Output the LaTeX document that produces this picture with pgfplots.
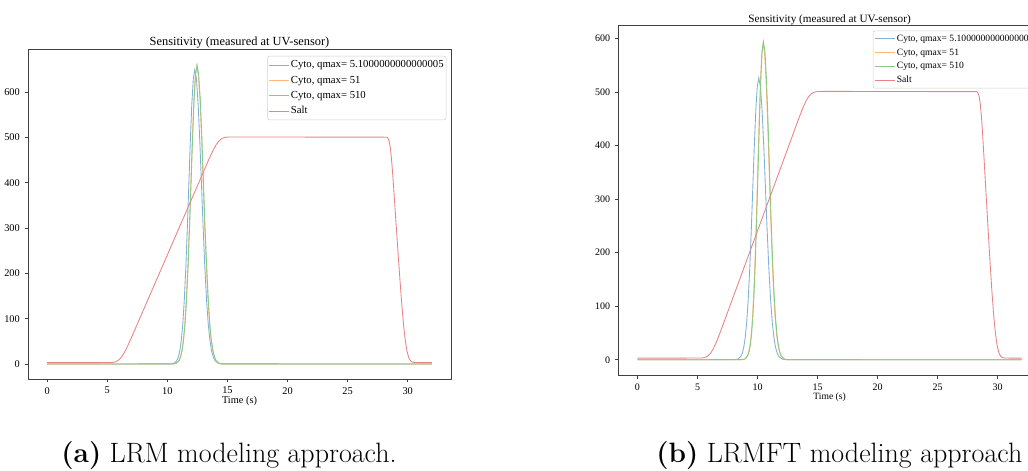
\documentclass[border=0pt]{standalone}
\usepackage{fontspec}
\usepackage{pgfplots}
\usepackage{pgfplotstable}
\pgfplotsset{compat=1.18}
\newfontfamily\tnr{Liberation Serif}
\definecolor{cblue}{RGB}{128,178,214}
\definecolor{corange}{RGB}{255,182,118}
\definecolor{cgreen}{RGB}{136,202,136}
\definecolor{cred}{RGB}{232,132,133}

% ---------- Salt (same gradient in both panels) ----------
\pgfplotstableread{
x y
0 3
5.3 3.2
5.5 3.7
5.7 5.0
5.9 7.8
6.1 12.7
6.3 20.0
6.5 29.4
6.7 40.3
6.9 52.0
7.1 63.7
7.5 88.4
8 118.9
9 179.9
10 240.9
11 301.9
12 362.9
13 423.9
13.46 452.2
13.66 463.7
13.86 474.6
14.06 484
14.26 491.3
14.46 496.2
14.66 499
14.86 500.3
15.06 500.8
15.5 501
28.25 500.5
28.325 499.2
28.40 496
28.475 489
28.55 477
28.625 459
28.70 436
28.775 409
28.85 380.5
29.0 321
29.2 243
29.35 186.5
29.5 133
29.65 86.8
29.8 50.9
29.95 26.8
30.1 13
30.25 6.5
30.4 4
30.6 3.2
32 3
}\salt

% ---------- LRM panel ----------
\pgfplotstableread{
x y
0 0
10.28 0.2
10.53 1.4
10.78 7.2
10.905 14.8
11.03 28.5
11.155 51.7
11.28 87.8
11.405 140.4
11.53 210.7
11.655 297.1
11.78 393.6
11.905 489.9
12.03 572.7
12.155 628.9
12.28 649
12.42 628.9
12.56 572.7
12.70 489.9
12.84 393.6
12.98 297.1
13.12 210.7
13.26 140.4
13.40 87.8
13.54 51.7
13.68 28.5
13.82 14.8
13.96 7.2
14.24 1.4
14.52 0.2
32 0
}\lrmA
\pgfplotstableread{
x y
0 0
10.45 0.2
10.70 1.4
10.95 7.3
11.075 15.0
11.20 28.8
11.325 52.3
11.45 88.9
11.575 142.1
11.70 213.3
11.825 300.8
11.95 398.5
12.075 495.9
12.20 579.8
12.325 636.6
12.45 657
12.58 636.6
12.72 579.8
12.85 495.9
12.98 398.5
13.11 300.8
13.25 213.3
13.38 142.1
13.51 88.9
13.64 52.3
13.78 28.8
13.91 15.0
14.04 7.3
14.31 1.4
14.57 0.2
32 0
}\lrmB
\pgfplotstableread{
x y
0 0
10.47 0.2
10.72 1.5
10.97 7.3
11.095 15.0
11.22 29.0
11.345 52.5
11.47 89.3
11.595 142.8
11.72 214.3
11.845 302.1
11.97 400.3
12.095 498.2
12.22 582.5
12.345 639.5
12.47 660
12.60 639.5
12.74 582.5
12.87 498.2
13.00 400.3
13.13 302.1
13.27 214.3
13.40 142.8
13.53 89.3
13.66 52.5
13.80 29.0
13.93 15.0
14.06 7.3
14.33 1.5
14.59 0.2
32 0
}\lrmC

% ---------- LRMFT panel ----------
\pgfplotstableread{
x y
0 0
8.10 0.16
8.35 1.2
8.60 5.8
8.725 12.0
8.85 23.1
8.975 41.9
9.10 71.2
9.225 113.8
9.35 170.8
9.475 240.8
9.60 319.0
9.725 397.0
9.85 464.2
9.975 509.7
10.10 526
10.24 509.7
10.38 464.2
10.52 397.0
10.66 319.0
10.80 240.8
10.94 170.8
11.08 113.8
11.22 71.2
11.36 41.9
11.50 23.1
11.64 12.0
11.78 5.8
12.06 1.2
12.34 0.16
32 0
}\ftA
\pgfplotstableread{
x y
0 0
8.70 0.2
8.92 1.3
9.14 6.5
9.25 13.5
9.36 25.9
9.47 47.0
9.58 79.8
9.69 127.6
9.80 191.6
9.91 270.1
10.02 357.8
10.13 445.3
10.24 520.7
10.35 571.7
10.46 590
10.585 571.7
10.71 520.7
10.835 445.3
10.96 357.8
11.085 270.1
11.21 191.6
11.335 127.6
11.46 79.8
11.585 47.0
11.71 25.9
11.835 13.5
11.96 6.5
12.21 1.3
12.46 0.2
32 0
}\ftB
\pgfplotstableread{
x y
0 0
8.73 0.2
8.95 1.3
9.17 6.6
9.28 13.5
9.39 26.1
9.50 47.3
9.61 80.4
9.72 128.5
9.83 192.9
9.94 271.9
10.05 360.3
10.16 448.4
10.27 524.2
10.38 575.6
10.49 594
10.615 575.6
10.74 524.2
10.865 448.4
10.99 360.3
11.115 271.9
11.24 192.9
11.365 128.5
11.49 80.4
11.615 47.3
11.74 26.1
11.865 13.5
11.99 6.6
12.24 1.3
12.49 0.2
32 0
}\ftC

\pgfplotsset{
  mplstyle/.style={
    scale only axis,
    axis line style={black!75, line width=0.6pt},
    xmin=-1.6, xmax=33.6,
    xtick={0,5,...,30},
    ytick={0,100,...,600},
    xtick pos=bottom, ytick pos=left,
    tick align=outside,
    major tick length=2.6pt,
    tick style={black!75, line width=0.5pt},
    /pgf/number format/assume math mode=true,
    scaled ticks=false,
    legend cell align=left,
    legend image code/.code={\draw[#1] (0pt,0pt) -- (15pt,0pt);},
    every axis plot/.append style={line width=0.65pt},
    every axis title shift=0pt,
    title style={inner sep=0pt, anchor=south, at={(0.5,1)}},
    xlabel style={at={(0.5,0)}, anchor=center},
    clip=true,
  }
}

\begin{document}
\begin{tikzpicture}
\useasboundingbox (0,0) rectangle (771pt,353.25pt);

% ---------------- (a) LRM ----------------
\begin{axis}[mplstyle,
  at={(21pt,69pt)}, anchor=south west,
  width=317.25pt, height=247.5pt,
  ymin=-33.1, ymax=695.1,
  tick label style={font=\fontsize{7.75}{9}\selectfont\tnr},
  title={Sensitivity (measured at UV-sensor)},
  title style={font=\fontsize{9.3}{11}\selectfont\tnr, yshift=0.6pt},
  xlabel={Time (s)},
  xlabel style={font=\fontsize{7.75}{9}\selectfont\tnr, yshift=-16.5pt},
  legend style={at={(1,1)}, anchor=north east, xshift=-3.5pt, yshift=-5.2pt,
    draw=black!18, rounded corners=1.5pt, fill=white,
    font=\fontsize{8.05}{9}\selectfont\tnr,
    inner xsep=0.5pt, inner ysep=1.5pt, row sep=1.3pt,
    nodes={inner sep=1.3pt, text height=5.9pt, text depth=1.7pt}},
]
\addplot[cblue] table {\lrmA};
\addlegendentry{Cyto, qmax= 5.1000000000000005}
\addplot[corange] table {\lrmB};
\addlegendentry{Cyto, qmax= 51}
\addplot[cgreen] table {\lrmC};
\addlegendentry{Cyto, qmax= 510}
\addplot[cred] table {\salt};
\addlegendentry{Salt}
\end{axis}

% ---------------- (b) LRMFT ----------------
\begin{axis}[mplstyle,
  at={(463.7pt,71.5pt)}, anchor=south west,
  width=317pt, height=262.5pt,
  ymin=-29.7, ymax=623.7,
  tick label style={font=\fontsize{7.5}{9}\selectfont\tnr},
  title={Sensitivity (measured at UV-sensor)},
  title style={font=\fontsize{8.4}{10}\selectfont\tnr, yshift=0.7pt},
  xlabel={Time (s)},
  xlabel style={font=\fontsize{7.2}{9}\selectfont\tnr, yshift=-15.8pt},
  legend style={at={(1,1)}, anchor=north east, xshift=-3.2pt, yshift=-3.7pt,
    draw=black!18, rounded corners=1.5pt, fill=white,
    font=\fontsize{7.2}{8}\selectfont\tnr,
    inner xsep=1pt, inner ysep=1.3pt, row sep=1.2pt,
    nodes={inner sep=1.2pt, text height=5.3pt, text depth=1.5pt}},
]
\addplot[cblue] table {\ftA};
\addlegendentry{Cyto, qmax= 5.1000000000000005}
\addplot[corange] table {\ftB};
\addlegendentry{Cyto, qmax= 51}
\addplot[cgreen] table {\ftC};
\addlegendentry{Cyto, qmax= 510}
\addplot[cred] table {\salt};
\addlegendentry{Salt}
\end{axis}

\node[font=\fontsize{21}{24}\selectfont] at (171.8pt,11.5pt) {\textbf{(a)} LRM modeling approach.};
\node[font=\fontsize{21}{24}\selectfont] at (629.5pt,11.5pt) {\textbf{(b)} LRMFT modeling approach};
\end{tikzpicture}
\end{document}
